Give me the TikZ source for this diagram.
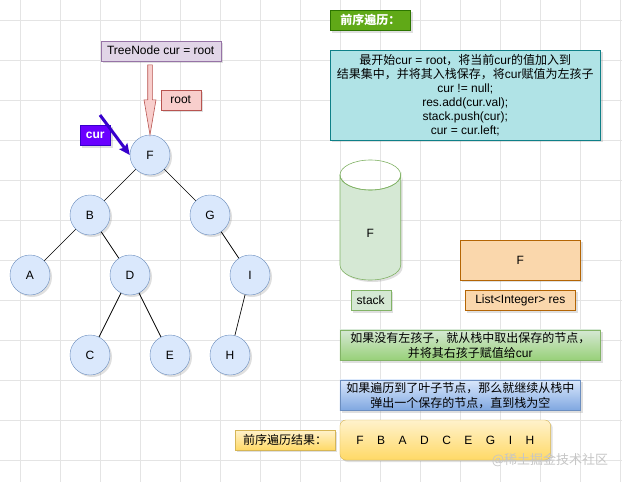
\documentclass[tikz,border=0pt]{standalone}
\usepackage{fontspec}
\setmainfont{Liberation Sans}
\newfontfamily\cjk{Noto Sans CJK SC}
\usetikzlibrary{arrows.meta, positioning, calc, shadows}
\definecolor{gridgray}{HTML}{E4E4E4}
\definecolor{nodeblue}{HTML}{DAE8FC}
\definecolor{edgeblue}{HTML}{6C8EBF}
\definecolor{lilac}{HTML}{E1D5E7}
\definecolor{plum}{HTML}{9673A6}
\definecolor{rosefill}{HTML}{F8CECC}
\definecolor{rosedraw}{HTML}{B85450}
\definecolor{curviolet}{HTML}{6A00FF}
\definecolor{indigo}{HTML}{3700CC}
\definecolor{leaf}{HTML}{60A917}
\definecolor{leafdk}{HTML}{2D7600}
\definecolor{tealfill}{HTML}{B0E3E6}
\definecolor{tealdraw}{HTML}{0E8088}
\definecolor{mint}{HTML}{D5E8D4}
\definecolor{mintdk}{HTML}{82B366}
\definecolor{mintlo}{HTML}{97D077}
\definecolor{peach}{HTML}{FAD7AC}
\definecolor{amber}{HTML}{B46504}
\definecolor{skylo}{HTML}{7EA6E0}
\definecolor{cornsilk}{HTML}{FFF2CC}
\definecolor{honey}{HTML}{FFD966}
\definecolor{mustard}{HTML}{D6B656}
\newcommand{\ordgap}{\hspace{13.5pt}}

\begin{document}
\begin{tikzpicture}[x=1pt, y=-1pt, font=\fontsize{12}{14}\selectfont,
  softshadow/.style={drop shadow={shadow xshift=2pt, shadow yshift=-2pt, opacity=0.25}},
  treenode/.style={circle, minimum size=40pt, inner sep=0pt, fill=nodeblue, draw=edgeblue, softshadow},
  branch/.style={black, line width=0.7pt},
  box/.style={rectangle, inner sep=0pt, align=center, softshadow},
  rootarrow/.style={fill=rosefill, draw=rosedraw, line width=0.6pt},
  curarrow/.style={indigo, line width=3pt, -{Stealth[length=11pt, width=10pt, inset=2pt]}}]

% Background and grid
\useasboundingbox (0,0) rectangle (622,482);
\fill[white] (0,0) rectangle (622,482);
\foreach \gx in {20,60,...,620}
  \draw[gridgray, line width=0.6pt] (\gx,0) -- (\gx,482);
\foreach \gy in {20,60,...,460}
  \draw[gridgray, line width=0.6pt] (0,\gy) -- (622,\gy);

% --- Tree ---
\node[treenode] (F) at (150,155) {F};
\node[treenode] (B) at (90,215) {B};
\node[treenode] (G) at (210,215) {G};
\node[treenode] (A) at (30,275) {A};
\node[treenode] (D) at (130,275) {D};
\node[treenode] (I) at (250,275) {I};
\node[treenode] (C) at (90,355) {C};
\node[treenode] (E) at (170,355) {E};
\node[treenode] (H) at (230,355) {H};

\draw[branch] (F) -- (B);
\draw[branch] (F) -- (G);
\draw[branch] (B) -- (A);
\draw[branch] (B) -- (D);
\draw[branch] (D) -- (C);
\draw[branch] (D) -- (E);
\draw[branch] (G) -- (I);
\draw[branch] (I) -- (H);

% --- Pointers ---
\node[box, fill=lilac, draw=plum, minimum width=120pt, minimum height=20pt]
  (tn) at (160.7,50.7) {TreeNode cur = root};
\node[box, fill=rosefill, draw=rosedraw, minimum width=40pt, minimum height=20pt]
  (rootlbl) at (180.7,100) {root};
\coordinate (tip) at (F.north);
\draw[rootarrow] ($(tip)+(-2.3,-70)$) -- ($(tip)+(2.3,-70)$) -- ($(tip)+(2.3,-35)$)
  -- ($(tip)+(6,-35)$) -- (tip) -- ($(tip)+(-6,-35)$) -- ($(tip)+(-2.3,-35)$) -- cycle;

\node[box, fill=curviolet, draw=indigo, text=white, font=\fontsize{12}{14}\selectfont\bfseries,
  minimum width=30.7pt, minimum height=20.7pt] (curlbl) at (95.3,135.3) {cur};
\coordinate (curtail) at (100,115);
\draw[curarrow] (curtail) -- (F.west);

% --- Notes on the right ---
\node[box, fill=leaf, draw=leafdk, text=white, minimum width=80.7pt, minimum height=20.7pt]
  (title) at (370.3,20.3) {\cjk\bfseries 前序遍历：};

\node[box, fill=tealfill, draw=tealdraw, minimum width=270.7pt, minimum height=90pt]
  (steps) at (465.3,95) {{\cjk 最开始}cur = root{\cjk ，将当前}cur{\cjk 的值加入到}\\
  {\cjk 结果集中，并将其入栈保存，将}cur{\cjk 赋值为左孩子}\\
  cur != null;\\ res.add(cur.val);\\ stack.push(cur);\\ cur = cur.left;};

% stack
\filldraw[fill=mint, draw=mintdk, line width=0.6pt, softshadow]
  (340,175) -- (340,265) arc[start angle=180, end angle=0, x radius=30.35, y radius=15]
  -- (400.7,175) arc[start angle=0, end angle=180, x radius=30.35, y radius=15] -- cycle;
\draw[mintdk, line width=0.6pt] (370.35,175) ellipse[x radius=30.35, y radius=15];
\node (stackval) at (370.3,233) {F};
\node[box, fill=mint, draw=mintdk, minimum width=40pt, minimum height=20.7pt]
  (stacklbl) at (370.7,300.3) {stack};

% result list
\node[box, fill=peach, draw=amber, minimum width=120.7pt, minimum height=40pt]
  (res) at (520.3,260) {F};
\node[box, fill=peach, draw=amber, minimum width=110.7pt, minimum height=20.7pt]
  (reslbl) at (520.3,300.3) {List<Integer> res};

\node[box, top color=mint, bottom color=mintlo, draw=mintdk, minimum width=260.7pt,
  minimum height=30.7pt, font=\fontsize{12}{15}\selectfont] (popnote) at (470.3,345.3)
  {{\cjk 如果没有左孩子，就从栈中取出保存的节点，}\\{\cjk 并将其右孩子赋值给}cur};

\node[box, top color=nodeblue, bottom color=skylo, draw=edgeblue, minimum width=240.7pt,
  minimum height=30.7pt, font=\fontsize{12}{15}\selectfont] (leafnote) at (460.3,395.3)
  {\cjk 如果遍历到了叶子节点，那么就继续从栈中\\\cjk 弹出一个保存的节点，直到栈为空};

\node[box, top color=cornsilk, bottom color=honey, draw=mustard, rounded corners=6pt,
  minimum width=210.7pt, minimum height=40pt] (order) at (445.3,440)
  {F\ordgap B\ordgap A\ordgap D\ordgap C\ordgap E\ordgap G\ordgap I\ordgap H};
\node[box, top color=cornsilk, bottom color=honey, draw=mustard, minimum width=100pt,
  minimum height=20pt] (orderlbl) at (285,440) {\cjk 前序遍历结果：};

% watermark
\node[text=gray!45, font=\fontsize{13}{15}\selectfont] (wm) at (550,460) {\cjk @稀土掘金技术社区};

\end{tikzpicture}
\end{document}
